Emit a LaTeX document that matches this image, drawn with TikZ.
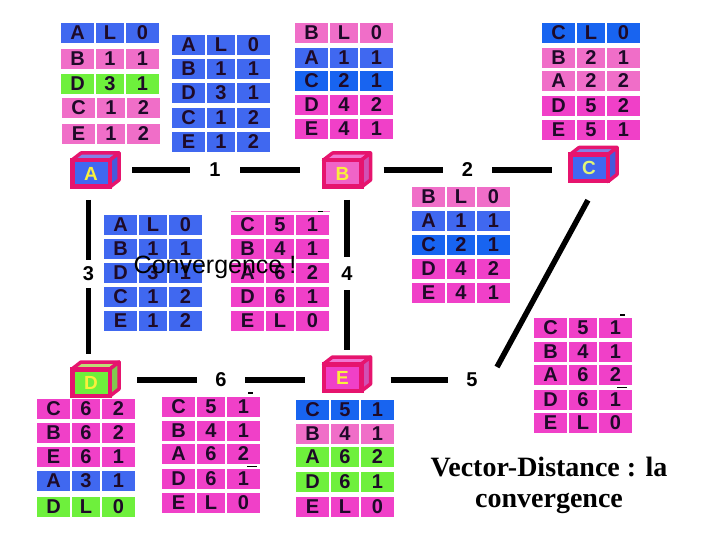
\documentclass[tikz,border=0pt]{standalone}
\usepackage{fontspec}
\setmainfont{Liberation Sans}
\newfontfamily\titlefont{Liberation Serif}
\usetikzlibrary{calc}
\definecolor{cblue}{RGB}{64,104,240}
\definecolor{cblueb}{RGB}{24,100,240}
\definecolor{cpink}{RGB}{240,110,200}
\definecolor{cmag}{RGB}{240,64,200}
\definecolor{cgreen}{RGB}{110,240,60}
\definecolor{cborder}{RGB}{230,20,110}
\definecolor{celltext}{RGB}{30,10,40}
\definecolor{ctopblue}{RGB}{130,130,230}
\definecolor{csideblue}{RGB}{70,90,220}
\definecolor{cpinkcube}{RGB}{240,100,200}
\definecolor{ctoppink}{RGB}{240,120,210}
\definecolor{csidepink}{RGB}{210,80,180}
\definecolor{ctopgreen}{RGB}{190,220,120}
\definecolor{csidegreen}{RGB}{130,200,80}
\definecolor{cyellow}{RGB}{250,240,60}
\definecolor{cyellowgreen}{RGB}{225,245,120}
\tikzset{
  cell/.style={rectangle, inner sep=0pt, minimum height=20pt, text=celltext,
    font=\fontsize{20}{20}\selectfont\bfseries},
  link/.style={line width=5.5pt, black},
  lbl/.style={inner sep=0pt, font=\fontsize{20}{20}\selectfont\bfseries},
  cubefront/.style={rectangle, draw=cborder, line width=4.5pt, minimum width=37.5pt,
    minimum height=26.5pt, inner sep=0pt, font=\fontsize{19}{20}\selectfont\bfseries},
  cubeface/.style={draw=cborder, line width=3.5pt, line join=round},
  artefact/.style={line width=1.5pt, black}
}
\newcommand\trow[7]{%
  \node[cell, fill=#4, minimum width=33pt] (#1a) at ({#2+16.5},{#3+10}) {#5};
  \node[cell, fill=#4, minimum width=28pt] (#1b) at ({#2+49},{#3+10}) {#6};
  \node[cell, fill=#4, minimum width=33pt] (#1c) at ({#2+81.5},{#3+10}) {#7};}
\newcommand\cubebox[8]{%
  \filldraw[cubeface, fill=#5]
    ({#2-19},{#3-13.5}) -- ({#2-10},{#3-20.5}) -- ({#2+28},{#3-20.5}) -- ({#2+19},{#3-13.5}) -- cycle;
  \filldraw[cubeface, fill=#6]
    ({#2+19},{#3-13.5}) -- ({#2+28},{#3-20.5}) -- ({#2+28},{#3+6.5}) -- ({#2+19},{#3+13.5}) -- cycle;
  \node[cubefront, fill=#4, text=#8] (#1) at (#2,#3) {#7};}
\begin{document}
\begin{tikzpicture}[x=1pt,y=-1pt]
\useasboundingbox (0,0) rectangle (720,540);
\fill[white] (0,0) rectangle (720,540);

% T1
\trow{ta1}{61}{23}{cblue}{A}{L}{0}
\trow{ta2}{61}{49}{cpink}{B}{1}{1}
\trow{ta3}{61}{74}{cgreen}{D}{3}{1}
\trow{ta4}{62}{98}{cpink}{C}{1}{2}
\trow{ta5}{62}{124}{cpink}{E}{1}{2}
% T2
\trow{tb1}{172}{35}{cblue}{A}{L}{0}
\trow{tb2}{172}{59}{cblue}{B}{1}{1}
\trow{tb3}{172}{83}{cblue}{D}{3}{1}
\trow{tb4}{172}{108}{cblue}{C}{1}{2}
\trow{tb5}{172}{132}{cblue}{E}{1}{2}
% T3
\trow{tc1}{295}{23}{cpink}{B}{L}{0}
\trow{tc2}{295}{48}{cblue}{A}{1}{1}
\trow{tc3}{295}{71}{cblueb}{C}{2}{1}
\trow{tc4}{295}{95}{cmag}{D}{4}{2}
\trow{tc5}{295}{119}{cmag}{E}{4}{1}
% T4
\trow{td1}{542}{23}{cblueb}{C}{L}{0}
\trow{td2}{542}{48}{cpink}{B}{2}{1}
\trow{td3}{542}{71}{cpink}{A}{2}{2}
\trow{td4}{542}{96}{cmag}{D}{5}{2}
\trow{td5}{542}{120}{cmag}{E}{5}{1}
% T5
\trow{te1}{412}{187}{cpink}{B}{L}{0}
\trow{te2}{412}{211}{cblue}{A}{1}{1}
\trow{te3}{412}{235}{cblueb}{C}{2}{1}
\trow{te4}{412}{259}{cmag}{D}{4}{2}
\trow{te5}{412}{283}{cmag}{E}{4}{1}
% T6
\trow{tf1}{104}{215}{cblue}{A}{L}{0}
\trow{tf2}{104}{239}{cblue}{B}{1}{1}
\trow{tf3}{104}{263}{cblue}{D}{3}{1}
\trow{tf4}{104}{287}{cblue}{C}{1}{2}
\trow{tf5}{104}{311}{cblue}{E}{1}{2}
% T7
\trow{tg1}{231}{215}{cmag}{C}{5}{1}
\trow{tg2}{231}{239}{cmag}{B}{4}{1}
\trow{tg3}{231}{263}{cmag}{A}{6}{2}
\trow{tg4}{231}{287}{cmag}{D}{6}{1}
\trow{tg5}{231}{311}{cmag}{E}{L}{0}
% T8
\trow{th1}{534}{318}{cmag}{C}{5}{1}
\trow{th2}{534}{342}{cmag}{B}{4}{1}
\trow{th3}{534}{365}{cmag}{A}{6}{2}
\trow{th4}{534}{390}{cmag}{D}{6}{1}
\trow{th5}{534}{413}{cmag}{E}{L}{0}
% T9
\trow{ti1}{37}{399}{cmag}{C}{6}{2}
\trow{ti2}{37}{423}{cmag}{B}{6}{2}
\trow{ti3}{37}{447}{cmag}{E}{6}{1}
\trow{ti4}{37}{471}{cblue}{A}{3}{1}
\trow{ti5}{37}{497}{cgreen}{D}{L}{0}
% T10
\trow{tj1}{162}{397}{cmag}{C}{5}{1}
\trow{tj2}{162}{421}{cmag}{B}{4}{1}
\trow{tj3}{162}{444}{cmag}{A}{6}{2}
\trow{tj4}{162}{469}{cmag}{D}{6}{1}
\trow{tj5}{162}{493}{cmag}{E}{L}{0}
% T11
\trow{tk1}{296}{400}{cblueb}{C}{5}{1}
\trow{tk2}{296}{424}{cpink}{B}{4}{1}
\trow{tk3}{296}{447}{cgreen}{A}{6}{2}
\trow{tk4}{296}{472}{cgreen}{D}{6}{1}
\trow{tk5}{296}{497}{cmag}{E}{L}{0}

% small marks
\draw[line width=0.8pt, cpink] (231,211.5) -- (330,211.5);
\draw[artefact] (318,211.5) -- (323,211.5);
\draw[artefact] (620,315) -- (625,315);
\draw[artefact, line width=1pt] (617,387) -- (627,387);
\draw[artefact] (248,393) -- (253,393);
\draw[artefact, line width=1pt] (247,466) -- (257,466);

% cubes
\cubebox{cA}{91}{173.5}{cblue}{ctopblue}{csideblue}{A}{cyellow}
\cubebox{cB}{342.5}{173.5}{cpinkcube}{ctoppink}{csidepink}{B}{cyellow}
\cubebox{cC}{589}{168}{cblue}{ctopblue}{csideblue}{C}{cyellowgreen}
\cubebox{cD}{91}{382.5}{cgreen}{ctopgreen}{csidegreen}{D}{cyellow}
\cubebox{cE}{342.5}{377.5}{cmag}{ctoppink}{csidepink}{E}{cyellow}

% link labels
\node[lbl, minimum width=50pt] (l1) at (215,170) {1};
\node[lbl, minimum width=49pt] (l2) at (467.5,170) {2};
\node[lbl, minimum height=28pt] (l3) at (88.5,274) {3};
\node[lbl, minimum height=33pt] (l4) at (347,273.5) {4};
\node[lbl, minimum width=48pt] (l6) at (221,380) {6};
\node[lbl, minimum width=48pt] (l5) at (472,380) {5};

% links
\draw[link, shorten <=20pt] (cA.east |- l1) -- (l1.west);
\draw[link, shorten >=22pt] (l1.east) -- (cB.west |- l1);
\draw[link, shorten <=20pt] (cB.east |- l2) -- (l2.west);
\draw[link, shorten >=16pt] (l2.east) -- (cC.west |- l2);
\draw[link, shorten <=11pt] (cA.south -| l3) -- (l3.north);
\draw[link, shorten >=13pt] (l3.south) -- (cD.north -| l3);
\draw[link, shorten <=11pt] (cB.south -| l4) -- (l4.north);
\draw[link, shorten >=12pt] (l4.south) -- (cE.north -| l4);
\draw[link, shorten <=25pt] (cD.east |- l6) -- (l6.west);
\draw[link, shorten >=17pt] (l6.east) -- (cE.west |- l6);
\draw[link, shorten <=27pt] (cE.east |- l5) -- (l5.west);
\coordinate (d1) at (497,367);
\draw[link, shorten >=19pt] (d1) -- ([xshift=8pt]cC.south);

% texts
\node[anchor=base, inner sep=0pt, font=\fontsize{25}{26}\selectfont] (conv) at (215,273) {Convergence !};
\node[align=center, inner sep=0pt, font=\titlefont\bfseries\fontsize{28}{31}\selectfont] (title) at (549,485) {Vector-Distance : la\\convergence};
\end{tikzpicture}
\end{document}
